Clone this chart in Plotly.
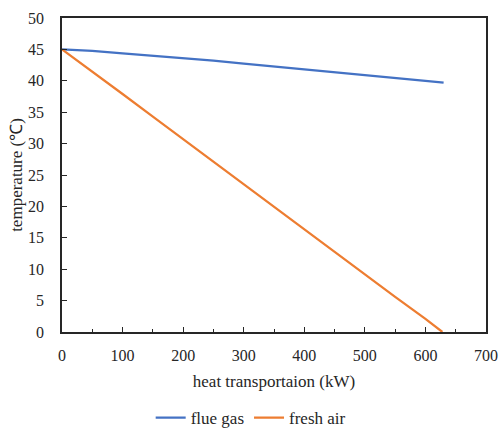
import plotly.graph_objects as go

# Data
flue_x = [0, 50, 100, 150, 200, 250, 300, 350, 400, 450, 500, 550, 600, 630]
flue_y = [45.0, 44.75, 44.35, 44.0, 43.55, 43.2, 42.75, 42.3, 41.85, 41.45, 40.95, 40.45, 40.0, 39.7]

air_x = [0, 50, 100, 150, 200, 250, 300, 350, 400, 450, 500, 550, 600, 628]
air_y = [45.0, 41.5, 37.9, 34.3, 30.7, 27.1, 23.6, 19.9, 16.4, 12.8, 9.2, 5.6, 2.1, 0.0]

x_ticks = [0, 100, 200, 300, 400, 500, 600, 700]
y_ticks = [0, 5, 10, 15, 20, 25, 30, 35, 40, 45, 50]

FONT = "Liberation Serif"
FS_TICK = 16
FS_TITLE = 17

fig = go.Figure()
fig.add_trace(go.Scatter(x=flue_x, y=flue_y, mode="lines", name="flue gas",
                         line=dict(color="#4472C4", width=2.25)))
fig.add_trace(go.Scatter(x=air_x, y=air_y, mode="lines", name="fresh air",
                         line=dict(color="#ED7D31", width=2.25)))

axis_common = dict(showgrid=False, zeroline=False, showline=True, mirror=True,
                   linecolor="#262626", linewidth=1.5, ticks="inside",
                   tickcolor="#262626", tickwidth=1.3, automargin=False,
                   tickfont=dict(family=FONT, size=FS_TICK, color="#262626"))

fig.update_xaxes(range=[0, 700], tickvals=x_ticks, ticklen=5,
                 minor=dict(dtick=50, tick0=0, ticks="inside", ticklen=3.5,
                            tickcolor="#262626", tickwidth=1.3),
                 ticklabelstandoff=8,
                 title=dict(text="heat transportaion (kW)",
                            font=dict(family=FONT, size=FS_TITLE, color="#262626"),
                            standoff=12),
                 **axis_common)
fig.update_yaxes(range=[0, 50], tickvals=y_ticks, ticklen=5,
                 ticklabelstandoff=13,
                 title=dict(text="temperature (℃)",
                            font=dict(family=FONT, size=FS_TITLE, color="#262626"),
                            standoff=1),
                 **axis_common)

fig.update_layout(
    width=500, height=432,
    margin=dict(l=62, r=14, t=18, b=100, autoexpand=False),
    plot_bgcolor="white", paper_bgcolor="white",
    font=dict(family=FONT, size=FS_TICK, color="#262626"),
    legend=dict(orientation="h", x=0.445, xanchor="center",
                yref="container", y=0.032, yanchor="middle",
                font=dict(family=FONT, size=FS_TITLE, color="#262626"),
                itemwidth=30, tracegroupgap=0),
)

fig.write_html("out.html")
